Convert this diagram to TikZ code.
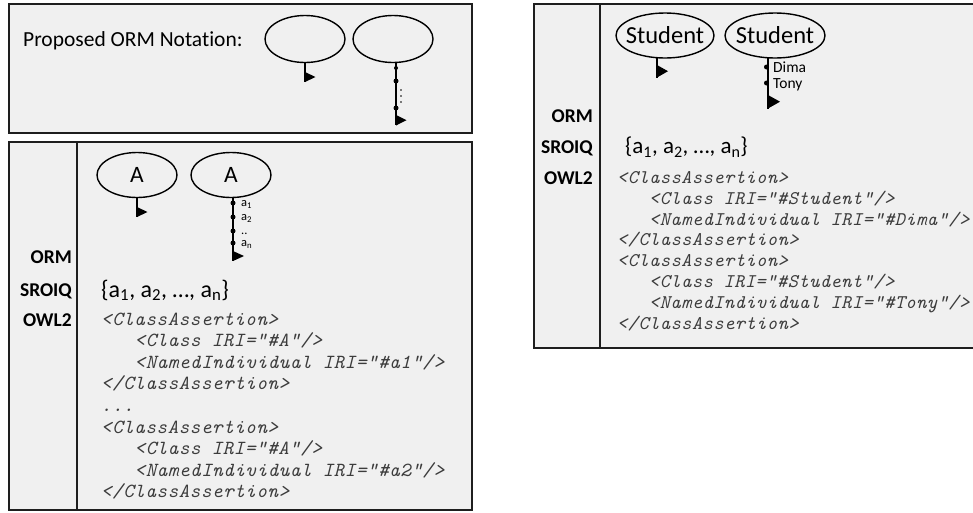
\documentclass[tikz,border=0pt]{standalone}
\usepackage{fontspec}
\setmainfont{Carlito}[Ligatures=NoCommon]
\newfontfamily\codefont[Extension=.otf, UprightFont=*-regular, ItalicFont=*-italic, LetterSpace=3]{lmmono10}
\usetikzlibrary{shapes.geometric}
\definecolor{panelfill}{RGB}{240,240,240}
\definecolor{codegray}{RGB}{60,60,60}
\definecolor{edge}{RGB}{30,30,30}
\tikzset{
  panel/.style={draw=edge, line width=1.6pt, fill=panelfill},
  divider/.style={draw=edge, line width=1.6pt},
  obj/.style={ellipse, draw=black, line width=1.4pt, fill=panelfill, inner sep=0pt},
  stem/.style={draw=black, line width=1.8pt},
  flag/.style={fill=black},
  dotmark/.style={circle, fill=black, inner sep=0pt, minimum size=5pt},
  tinydot/.style={circle, fill=black, inner sep=0pt, minimum size=1.8pt},
  lab/.style={font=\fontsize{19.5}{21}\selectfont\bfseries, anchor=base east, inner sep=0pt},
  setx/.style={font=\fontsize{24}{25}\selectfont, anchor=base west, inner sep=0pt},
  codeL/.style={font=\codefont\itshape\fontsize{20}{22}\selectfont, text=codegray, anchor=base west, inner sep=0pt},
  codeR/.style={font=\codefont\itshape\fontsize{19.3}{21}\selectfont, text=codegray, anchor=base west, inner sep=0pt},
  small/.style={font=\fontsize{12.5}{13}\selectfont, anchor=base west, inner sep=0pt},
  smallb/.style={font=\fontsize{15.5}{16}\selectfont, anchor=base west, inner sep=0pt},
}
\begin{document}
\begin{tikzpicture}[x=1pt,y=-1pt]
\useasboundingbox (0,0) rectangle (973,512);
\begin{scope}
\clip (0,0) rectangle (973,512);
% ---------- top-left panel ----------
\path[panel] (9,4) rectangle (472,133);
\node[font=\fontsize{21.5}{23}\selectfont, anchor=base west, inner sep=0pt] (prop) at (23,46) {Proposed ORM Notation:};
\node[obj, minimum width=80pt, minimum height=47pt] (e1) at (305,39) {};
\node[obj, minimum width=80pt, minimum height=47pt] (e2) at (393,39) {};
\coordinate (s1) at (305,82);
\draw[stem] (e1.south) -- (s1);
\fill[flag] (305,72) -- (305,82) -- (315.5,77) -- cycle;
\coordinate (s2) at (396,125);
\draw[stem] (396,62.5) -- (s2);
\node[dotmark, minimum size=4pt] (d21) at (396,68) {};
\node[dotmark] (d22) at (396,81) {};
\node[dotmark] (d23) at (396,108) {};
\node[tinydot] (v1) at (401,90) {};
\node[tinydot] (v2) at (401,96) {};
\node[tinydot] (v3) at (401,102) {};
\fill[flag] (396,115) -- (396,125.5) -- (406.5,120.2) -- cycle;
% ---------- bottom-left panel ----------
\path[panel] (9,142) rectangle (472,510);
\draw[divider] (77,142) -- (77,510);
\node[lab] (orm1) at (72,263) {ORM};
\node[lab] (sro1) at (72,296) {SROIQ};
\node[lab] (owl1) at (72,326) {OWL2};
\node[obj, minimum width=80pt, minimum height=45pt, font=\fontsize{23.5}{24}\selectfont] (e3) at (137,175) {A};
\node[obj, minimum width=80pt, minimum height=45pt, font=\fontsize{23.5}{24}\selectfont] (e4) at (231,175) {A};
\coordinate (s3) at (137,216.5);
\draw[stem] (e3.south) -- (s3);
\fill[flag] (137,207) -- (137,217) -- (147.5,212) -- cycle;
\coordinate (s4) at (233,260.5);
\draw[stem] (233,197.5) -- (s4);
\node[dotmark] (a1d) at (233,203) {};
\node[dotmark] (a2d) at (233,217) {};
\node[dotmark] (a3d) at (233,231) {};
\node[dotmark] (a4d) at (233,243) {};
\fill[flag] (233,251) -- (233,261) -- (244,256) -- cycle;
\node[small] (la1) at (241,206.5) {a\textsubscript{1}};
\node[small] (la2) at (241,220.5) {a\textsubscript{2}};
\node[small] (la3) at (241,234) {..};
\node[small] (la4) at (241,246.5) {a\textsubscript{n}};
\node[setx] (setL) at (101,297) {\{a\textsubscript{1}, a\textsubscript{2}, …, a\textsubscript{n}\}};
\node[codeL] (cl1) at (101,325) {<ClassAssertion>};
\node[codeL] (cl2) at (134.5,346.6) {<Class IRI="\#A"/>};
\node[codeL] (cl3) at (134.5,368.2) {<NamedIndividual IRI="\#a1"/>};
\node[codeL] (cl4) at (101,389.8) {</ClassAssertion>};
\node[codeL] (cl5) at (101,411.4) {...};
\node[codeL] (cl6) at (101,433) {<ClassAssertion>};
\node[codeL] (cl7) at (134.5,454.6) {<Class IRI="\#A"/>};
\node[codeL] (cl8) at (134.5,476.2) {<NamedIndividual IRI="\#a2"/>};
\node[codeL] (cl9) at (101,497.8) {</ClassAssertion>};
% ---------- right panel ----------
\path[panel] (534,4) rectangle (995,348);
\draw[divider] (600,4) -- (600,348);
\node[lab] (orm2) at (593,122) {ORM};
\node[lab] (sro2) at (593,153) {SROIQ};
\node[lab] (owl2) at (593,184) {OWL2};
\node[obj, minimum width=98pt, minimum height=45pt, font=\fontsize{24.5}{25}\selectfont] (e5) at (665,35.5) {\makebox[0pt]{Student}};
\node[obj, minimum width=100pt, minimum height=45pt, font=\fontsize{24.5}{25}\selectfont] (e6) at (775,35.5) {\makebox[0pt]{Student}};
\coordinate (s5) at (657,77.5);
\draw[stem] (657,57.5) -- (s5);
\fill[flag] (657,65) -- (657,77.5) -- (668,71.2) -- cycle;
\coordinate (s6) at (768,108.5);
\draw[stem] (768,57.5) -- (s6);
\node[dotmark] (dd1) at (766.5,67) {};
\node[dotmark] (dd2) at (766.5,83) {};
\fill[flag] (768,95) -- (768,108.5) -- (780,101.7) -- cycle;
\node[smallb] (dima) at (773,72) {Dima};
\node[smallb] (tony) at (773,88) {Tony};
\node[setx, font=\fontsize{23}{24}\selectfont] (setR) at (625,153.5) {\{a\textsubscript{1}, a\textsubscript{2}, …, a\textsubscript{n}\}};
\node[codeR] (cr1) at (617,183.5) {<ClassAssertion>};
\node[codeR] (cr2) at (649,204.3) {<Class IRI="\#Student"/>};
\node[codeR] (cr3) at (649,225.1) {<NamedIndividual IRI="\#Dima"/>};
\node[codeR] (cr4) at (617,245.9) {</ClassAssertion>};
\node[codeR] (cr5) at (617,266.7) {<ClassAssertion>};
\node[codeR] (cr6) at (649,287.5) {<Class IRI="\#Student"/>};
\node[codeR] (cr7) at (649,308.3) {<NamedIndividual IRI="\#Tony"/>};
\node[codeR] (cr8) at (617,329.1) {</ClassAssertion>};
\end{scope}
\end{tikzpicture}
\end{document}
